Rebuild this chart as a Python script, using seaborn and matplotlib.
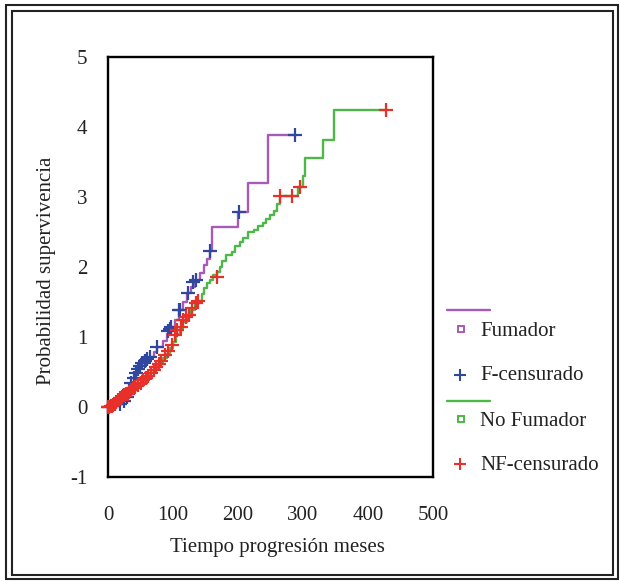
import numpy as np
import pandas as pd
import matplotlib
matplotlib.use("Agg")
import matplotlib.pyplot as plt
import seaborn as sns
from matplotlib.lines import Line2D
from matplotlib.patches import Rectangle

# ---------------- data ----------------
# Fumador: step curve (time, value)
fum_t = [0, 10, 18, 24, 29, 33, 36, 40, 43, 46, 49, 53, 57, 60, 64, 70, 75, 84, 90,
         97, 103, 109, 116, 122, 128, 134, 142, 148, 152, 157, 160, 200, 216, 246, 287]
fum_v = [0.0, 0.02, 0.05, 0.10, 0.15, 0.25, 0.34, 0.42, 0.48, 0.54, 0.59, 0.63, 0.66,
         0.69, 0.71, 0.78, 0.86, 0.94, 1.05, 1.15, 1.25, 1.39, 1.50, 1.63, 1.72, 1.81,
         1.92, 2.03, 2.12, 2.23, 2.57, 2.78, 3.20, 3.88, 3.88]

# F-censurado
fcens_t = [0, 18, 24, 29, 33, 36, 40, 43, 46, 49, 53, 57, 60, 64, 75, 92, 95, 97,
           109, 111, 123, 131, 135, 157, 202, 287]
fcens_v = [0.0, 0.05, 0.08, 0.15, 0.25, 0.34, 0.42, 0.48, 0.54, 0.59, 0.63, 0.66, 0.69,
           0.71, 0.86, 1.08, 1.12, 1.15, 1.39, 1.39, 1.63, 1.79, 1.81, 2.23, 2.79, 3.88]

# No Fumador: step curve
nof_t = [0, 5, 10, 15, 20, 25, 30, 35, 40, 45, 50, 55, 60, 65, 70, 75, 80, 85, 90, 95,
         100, 105, 110, 116, 122, 128, 134, 139, 144, 148, 152, 157, 162, 167, 172, 176,
         182, 190, 196, 203, 208, 216, 224, 231, 238, 243, 249, 255, 260, 264, 293, 300,
         303, 330, 348, 427]
nof_v = [0.0, 0.02, 0.05, 0.10, 0.14, 0.17, 0.19, 0.22, 0.27, 0.31, 0.35, 0.39, 0.43,
         0.48, 0.53, 0.58, 0.63, 0.70, 0.76, 0.84, 0.93, 1.05, 1.12, 1.22, 1.30, 1.38,
         1.46, 1.52, 1.62, 1.70, 1.77, 1.81, 1.88, 1.93, 2.00, 2.08, 2.17, 2.22, 2.30,
         2.36, 2.42, 2.50, 2.53, 2.58, 2.63, 2.69, 2.74, 2.80, 2.90, 3.02, 3.15, 3.30,
         3.56, 3.82, 4.24, 4.24]

# NF-censurado
nfc_t = [0, 2, 4, 6, 8, 10, 12, 15, 18, 21, 24, 27, 30, 33, 36, 39, 42, 46, 50, 54, 58,
         62, 66, 70, 74, 78, 82, 88, 92, 98, 103, 106, 112, 116, 120, 124, 129, 136, 139,
         167, 264, 283, 295, 427]
nfc_v = [0.0, 0.0, 0.01, 0.02, 0.03, 0.05, 0.07, 0.10, 0.13, 0.15, 0.17, 0.18, 0.19,
         0.21, 0.24, 0.27, 0.29, 0.32, 0.35, 0.39, 0.42, 0.45, 0.49, 0.53, 0.57, 0.62,
         0.66, 0.74, 0.80, 0.89, 1.03, 1.10, 1.15, 1.24, 1.28, 1.31, 1.41, 1.48, 1.52,
         1.86, 3.02, 3.02, 3.15, 4.24]

x_ticks = [0, 100, 200, 300, 400, 500]
y_ticks = [-1, 0, 1, 2, 3, 4, 5]
legend_labels = ["Fumador", "F-censurado", "No Fumador", "NF-censurado"]

PURPLE = "#A85AB8"
BLUE = "#3047A0"
GREEN = "#4DB848"
RED = "#E8302A"
FS = 15

# ---------------- figure ----------------
W, H = 620, 581
sns.set_theme(style="white")
plt.rcParams["font.family"] = ["Liberation Serif", "DejaVu Serif"]
plt.rcParams["text.color"] = "#222222"

fig = plt.figure(figsize=(W / 100, H / 100), dpi=100)
fig.patch.set_facecolor("white")

def fx(px):
    return px / W

def fy(py):
    return 1 - py / H

ax = fig.add_axes([fx(108), fy(477), 325 / W, 420 / H])
ax.set_facecolor("white")

fum = pd.DataFrame({"t": fum_t, "v": fum_v})
nof = pd.DataFrame({"t": nof_t, "v": nof_v})
fc = pd.DataFrame({"t": fcens_t, "v": fcens_v})
nc = pd.DataFrame({"t": nfc_t, "v": nfc_v})

sns.lineplot(data=fum, x="t", y="v", drawstyle="steps-post", color=PURPLE,
             lw=1.7, estimator=None, ax=ax, zorder=2)
sns.lineplot(data=nof, x="t", y="v", drawstyle="steps-post", color=GREEN,
             lw=1.7, estimator=None, ax=ax, zorder=2)
sns.scatterplot(data=fc, x="t", y="v", marker="+", s=95, color=BLUE,
                linewidth=1.6, ax=ax, zorder=3, clip_on=False)
sns.scatterplot(data=nc, x="t", y="v", marker="+", s=95, color=RED,
                linewidth=1.6, ax=ax, zorder=4, clip_on=False)

ax.set_xlim(0, 500)
ax.set_ylim(-1, 5)
ax.set_xticks(x_ticks)
ax.set_yticks(y_ticks)
ax.set_xticklabels([str(v) for v in x_ticks])
ax.set_yticklabels([str(v) for v in y_ticks])
for s in ax.spines.values():
    s.set_visible(True)
    s.set_color("black")
    s.set_linewidth(1.7)
ax.tick_params(axis="both", direction="out", length=3, width=3, color="black",
               labelsize=FS, labelcolor="#222222")
ax.tick_params(axis="x", pad=18)
ax.tick_params(axis="y", pad=12)
ax.grid(False)

ax.set_xlabel("Tiempo progresión meses", fontsize=FS, color="#222222")
ax.set_ylabel("Probabilidad supervivencia", fontsize=FS, color="#222222")
ax.xaxis.set_label_coords((277.5 - 108) / 325, (477 - 538) / 420)
ax.yaxis.set_label_coords((56 - 108) / 325, (477 - 271) / 420)

# ---------------- legend (manual, irregular spacing as in reference) ----------------
fig.add_artist(Line2D([fx(447), fx(490)], [fy(310), fy(310)], color=PURPLE, lw=1.7,
                      transform=fig.transFigure))
fig.add_artist(Line2D([fx(461)], [fy(329)], marker="s", ms=5, mfc="white", mec=PURPLE,
                      mew=1.4, ls="none", transform=fig.transFigure))
fig.text(fx(480), fy(331), legend_labels[0], va="center", ha="left", fontsize=FS)

fig.add_artist(Line2D([fx(460)], [fy(375)], marker="+", ms=9, mec=BLUE, mew=1.5,
                      ls="none", transform=fig.transFigure))
fig.text(fx(480), fy(376), legend_labels[1], va="center", ha="left", fontsize=FS)

fig.add_artist(Line2D([fx(447), fx(490)], [fy(401), fy(401)], color=GREEN, lw=1.7,
                      transform=fig.transFigure))
fig.add_artist(Line2D([fx(461)], [fy(419)], marker="s", ms=5, mfc="white", mec=GREEN,
                      mew=1.4, ls="none", transform=fig.transFigure))
fig.text(fx(480), fy(421), legend_labels[2], va="center", ha="left", fontsize=FS)

fig.add_artist(Line2D([fx(460)], [fy(464)], marker="+", ms=9, mec=RED, mew=1.5,
                      ls="none", transform=fig.transFigure))
fig.text(fx(480), fy(466), legend_labels[3], va="center", ha="left", fontsize=FS)

# ---------------- double frame around figure ----------------
fig.add_artist(Rectangle((fx(6), fy(579)), (618 - 6) / W, (579 - 5) / H, fill=False,
                         ec="#222222", lw=1.5, transform=fig.transFigure))
fig.add_artist(Rectangle((fx(12), fy(575)), (613 - 12) / W, (575 - 11) / H, fill=False,
                         ec="#222222", lw=1.5, transform=fig.transFigure))

fig.savefig("out.png", dpi=100, facecolor="white")
